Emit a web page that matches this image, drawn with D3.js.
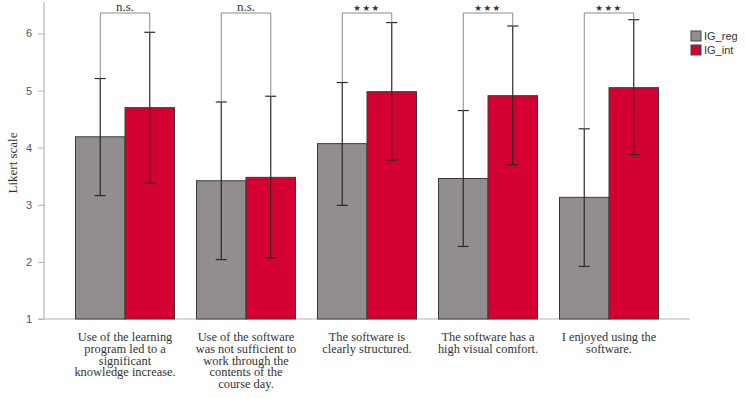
<!DOCTYPE html>
<html>
<head>
<meta charset="utf-8">
<script src="https://cdn.jsdelivr.net/npm/d3@7"></script>
<style>
  body { margin: 0; background: #fff; }
  .xlabel { font-family: "Liberation Serif", "Times New Roman", serif; font-size: 12.4px; fill: #333; }
  .tick text { font-family: "Liberation Sans", Arial, sans-serif; font-size: 11px; fill: #555; }
</style>
</head>
<body>
<div id="chart"></div>
<script>
const categories = [
    ["Use of the learning", "program led to a", "significant", "knowledge increase."],
    ["Use of the software", "was not sufficient to", "work through the", "contents of the", "course day."],
    ["The software is", "clearly structured."],
    ["The software has a", "high visual comfort."],
    ["I enjoyed using the", "software."]
];
const seriesNames = ["IG_reg", "IG_int"];
const regMeans = [4.19, 3.42, 4.07, 3.46, 3.13];
const regLow = [3.16, 2.04, 2.99, 2.27, 1.92];
const regHigh = [5.21, 4.80, 5.14, 4.65, 4.33];
const intMeans = [4.70, 3.48, 4.98, 4.91, 5.05];
const intLow = [3.38, 2.07, 3.78, 3.70, 3.88];
const intHigh = [6.02, 4.90, 6.19, 6.13, 6.24];
const significance = ["n.s.", "n.s.", "\u2605\u2605\u2605", "\u2605\u2605\u2605", "\u2605\u2605\u2605"];
const yTicks = [1, 2, 3, 4, 5, 6];

const svgWidth = 746;
const svgHeight = 398;
const colors = ["#928e8d", "#d50032"];

const svg = d3.select("#chart")
    .append("svg")
    .attr("width", svgWidth)
    .attr("height", svgHeight);

const xScale = d3.scaleBand()
    .domain(d3.range(categories.length))
    .range([64.5, 669.5])
    .paddingInner(0.18)
    .paddingOuter(0.09);

const yScale = d3.scaleLinear()
    .domain([1, 6.55])
    .range([319, 2]);

const groupCenter = i => xScale(i) + xScale.bandwidth() / 2;
const barW = 49.5;

const data = [];
categories.forEach((c, i) => {
    data.push({i: i, s: 0, mean: regMeans[i], low: regLow[i], high: regHigh[i]});
    data.push({i: i, s: 1, mean: intMeans[i], low: intLow[i], high: intHigh[i]});
});
const barX = d => groupCenter(d.i) + (d.s === 0 ? -barW : 0);

// axes
const yAxis = d3.axisLeft(yScale).tickValues(yTicks).tickSize(6).tickPadding(6).tickFormat(d3.format("d"));
const yg = svg.append("g")
    .attr("transform", "translate(44,0)")
    .call(yAxis);
yg.select(".domain").attr("stroke", "#b5b5b5").attr("stroke-width", 1.2).attr("d", "M0,2V319");
yg.selectAll(".tick line").attr("stroke", "#b5b5b5");

svg.append("line")
    .attr("x1", 38).attr("x2", 690)
    .attr("y1", yScale(1)).attr("y2", yScale(1))
    .attr("stroke", "#b5b5b5").attr("stroke-width", 1.2);

// bars
svg.selectAll(".bar")
    .data(data)
    .enter()
    .append("rect")
    .attr("class", "bar")
    .attr("x", d => barX(d))
    .attr("y", d => yScale(d.mean))
    .attr("width", barW)
    .attr("height", d => yScale(1) - yScale(d.mean))
    .attr("fill", d => colors[d.s])
    .attr("stroke", "#3a3a3a")
    .attr("stroke-width", 1);

// error bars
const eb = svg.selectAll(".err")
    .data(data)
    .enter()
    .append("g")
    .attr("class", "err")
    .attr("stroke", "#2a2a2a")
    .attr("stroke-width", 1.2);
eb.append("line")
    .attr("x1", d => barX(d) + barW / 2).attr("x2", d => barX(d) + barW / 2)
    .attr("y1", d => yScale(d.low)).attr("y2", d => yScale(d.high));
eb.append("line")
    .attr("x1", d => barX(d) + barW / 2 - 5.5).attr("x2", d => barX(d) + barW / 2 + 5.5)
    .attr("y1", d => yScale(d.low)).attr("y2", d => yScale(d.low));
eb.append("line")
    .attr("x1", d => barX(d) + barW / 2 - 5.5).attr("x2", d => barX(d) + barW / 2 + 5.5)
    .attr("y1", d => yScale(d.high)).attr("y2", d => yScale(d.high));

// significance brackets
const bracketY = 13;
const br = svg.selectAll(".bracket")
    .data(categories.map((c, i) => i))
    .enter()
    .append("g")
    .attr("class", "bracket");
br.append("path")
    .attr("d", i => {
        const xl = groupCenter(i) - barW / 2, xr = groupCenter(i) + barW / 2;
        return `M${xl},${yScale(regHigh[i])}V${bracketY}H${xr}V${yScale(intHigh[i])}`;
    })
    .attr("fill", "none")
    .attr("stroke", "#8a8a8a")
    .attr("stroke-width", 1);
br.append("text")
    .attr("x", i => groupCenter(i))
    .attr("y", i => significance[i] === "n.s." ? 10.5 : 10.5)
    .attr("text-anchor", "middle")
    .attr("font-family", i => significance[i] === "n.s." ? "Liberation Serif, serif" : "DejaVu Sans, sans-serif")
    .attr("font-size", i => significance[i] === "n.s." ? 13 : 8.5)
    .attr("letter-spacing", i => significance[i] === "n.s." ? 0 : 1.5)
    .attr("fill", "#333")
    .text(i => significance[i]);

// category labels
const lab = svg.selectAll(".xlabel")
    .data(categories)
    .enter()
    .append("text")
    .attr("class", "xlabel")
    .attr("text-anchor", "middle");
lab.selectAll("tspan")
    .data((d, i) => d.map(t => ({t: t, i: i})))
    .enter()
    .append("tspan")
    .attr("x", d => groupCenter(d.i))
    .attr("y", (d, j) => 341 + j * 11.8)
    .text(d => d.t);

// y label
svg.append("text")
    .attr("transform", "translate(17, 163) rotate(-90)")
    .attr("text-anchor", "middle")
    .attr("font-family", "Liberation Serif, serif")
    .attr("font-size", 13)
    .attr("fill", "#333")
    .text("Likert scale");

// legend
const legend = svg.selectAll(".legend")
    .data(seriesNames)
    .enter()
    .append("g")
    .attr("class", "legend")
    .attr("transform", (d, i) => `translate(691, ${31 + i * 14})`);
legend.append("rect")
    .attr("width", 10).attr("height", 10)
    .attr("fill", (d, i) => colors[i])
    .attr("stroke", "#444");
legend.append("text")
    .attr("x", 13).attr("y", 9)
    .attr("font-family", "Liberation Sans, Arial, sans-serif")
    .attr("font-size", 11)
    .attr("fill", "#333")
    .text(d => d);
</script>
</body>
</html>
